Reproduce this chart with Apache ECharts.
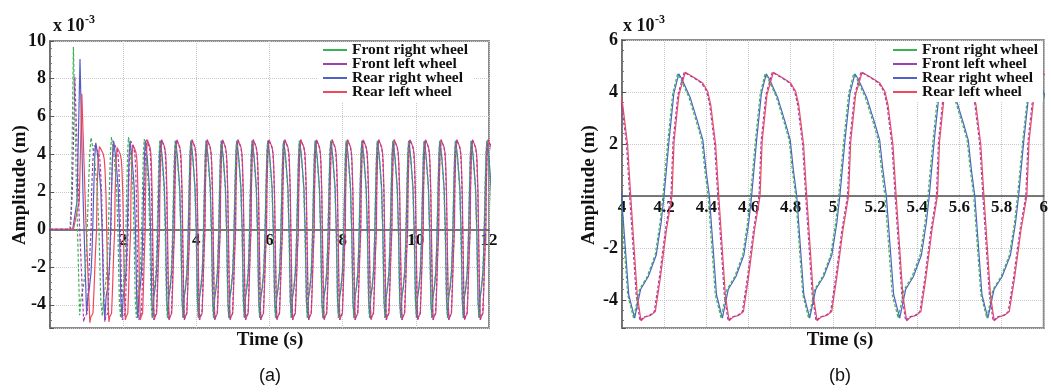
<!DOCTYPE html>
<html>
<head>
<meta charset="utf-8">
<script src="https://cdn.jsdelivr.net/npm/echarts@6/dist/echarts.min.js"></script>
<style>
  html, body { margin: 0; padding: 0; background: #fff; }
  #chart { width: 1051px; height: 392px; }
</style>
</head>
<body>
<div id="chart"></div>
<script>
// wheel amplitude in x 10^-3 m (a) and (b)

var wheelNames = ['Front right wheel', 'Front left wheel', 'Rear right wheel', 'Rear left wheel'];
var wheelColors = ['#3cb054', '#a040b0', '#5060c8', '#f04858'];

// one cycle after each trough: seconds after trough, amplitude
var rightWheelShapeT = [0, 0.028, 0.065, 0.103, 0.126, 0.14, 0.164, 0.187, 0.21, 0.225, 0.264, 0.302, 0.325, 0.34, 0.356, 0.39];
var rightWheelShapeV = [-4.7, -3.6, -3.1, -2.27, -1.04, 0, 2.15, 3.95, 4.7, 4.5, 3.8, 2.8, 2.15, 1.0, 0, -3.8];
var leftWheelShapeT = [0, 0.02, 0.045, 0.068, 0.091, 0.121, 0.147, 0.157, 0.18, 0.21, 0.256, 0.292, 0.316, 0.331, 0.354, 0.369, 0.40];
var leftWheelShapeV = [-4.8, -4.65, -4.6, -4.45, -3.2, -1.3, 0, 2.1, 3.9, 4.76, 4.54, 4.35, 4.03, 3.5, 1.97, 0, -3.8];
var shapeCycle = 0.418;

// the bump as the car starts, before the first trough
var frontRightLead = [[0, 0], [0.545, 0], [0.585, 1.5], [0.64, 9.7], [0.72, 2.5]];
var frontLeftLead = [[0, 0], [0.56, 0], [0.61, 2.0], [0.68, 8.1], [0.80, 0.5]];
var rearRightLead = [[0, 0], [0.62, 0], [0.74, 1.5], [0.82, 9.05], [0.90, 2.0]];
var rearLeftLead = [[0, 0], [0.64, 0], [0.80, 1.5], [0.87, 7.2], [0.98, 0.5]];

// trough times (s)
var frontRightTroughs = [0.81, 1.43, 1.93, 2.36, 2.79, 3.21, 3.635, 4.055, 4.47, 4.885, 5.31, 5.73, 6.165, 6.595, 7.035, 7.455, 7.885, 8.305, 8.735, 9.155, 9.585, 10.015, 10.435, 10.865, 11.295, 11.725, 12.15];
var frontLeftTroughs = [0.92, 1.50, 1.98, 2.43, 2.84, 3.25, 3.67, 4.085, 4.503, 4.92, 5.345, 5.76, 6.20, 6.63, 7.07, 7.49, 7.92, 8.34, 8.77, 9.19, 9.62, 10.05, 10.47, 10.90, 11.33, 11.76, 12.185];
var rearRightTroughs = [1.00, 1.50, 1.97, 2.40, 2.81, 3.22, 3.64, 4.06, 4.476, 4.89, 5.317, 5.735, 6.17, 6.60, 7.04, 7.46, 7.89, 8.31, 8.74, 9.16, 9.59, 10.02, 10.44, 10.87, 11.30, 11.73, 12.155];
var rearLeftTroughs = [1.09, 1.61, 2.06, 2.47, 2.85, 3.26, 3.675, 4.09, 4.508, 4.925, 5.35, 5.765, 6.205, 6.635, 7.075, 7.495, 7.925, 8.345, 8.775, 9.195, 9.625, 10.055, 10.475, 10.905, 11.335, 11.765, 12.19];

// first few trough depths and peak heights (later cycles follow the shape)
var frontRightLows = [-4.55, -4.6];
var frontLeftLows = [-4.9, -4.9];
var rearRightLows = [-4.5, -4.8];
var rearLeftLows = [-4.95, -4.9];
var frontRightPeaks = [4.87, 4.9, 4.9, 4.8];
var frontLeftPeaks = [4.45, 4.6, 4.7];
var rearRightPeaks = [4.6, 4.7];
var rearLeftPeaks = [4.4, 4.35, 4.5];

function buildWheel(lead, troughs, lows, peaks, shapeT, shapeV) {
  var pts = lead.slice();
  var top = Math.max.apply(null, shapeV);
  for (var i = 0; i < troughs.length; i++) {
    var t0 = troughs[i];
    var span = i + 1 < troughs.length ? troughs[i + 1] - t0 : shapeCycle;
    var k = (peaks[i] || top) / top;
    for (var j = 0; j < shapeT.length; j++) {
      var v = shapeV[j];
      if (j === 0 && lows[i] !== undefined) v = lows[i];
      else if (v > 0) v = v * k;
      pts.push([t0 + shapeT[j] / shapeCycle * span, v]);
    }
  }
  return pts;
}

var wheelData = [
  buildWheel(frontRightLead, frontRightTroughs, frontRightLows, frontRightPeaks, rightWheelShapeT, rightWheelShapeV),
  buildWheel(frontLeftLead, frontLeftTroughs, frontLeftLows, frontLeftPeaks, leftWheelShapeT, leftWheelShapeV),
  buildWheel(rearRightLead, rearRightTroughs, rearRightLows, rearRightPeaks, rightWheelShapeT, rightWheelShapeV),
  buildWheel(rearLeftLead, rearLeftTroughs, rearLeftLows, rearLeftPeaks, leftWheelShapeT, leftWheelShapeV)
];

var serif = '"Liberation Serif", "Times New Roman", serif';
var labelStyle = { fontFamily: serif, fontWeight: 'bold', fontSize: 18, color: '#111' };
var gridLine = { show: true, lineStyle: { type: 'dotted', color: '#c8c8c8', width: 1 } };

var grids = [
  { left: 50, top: 41, width: 439, height: 287 },
  { left: 622, top: 40, right: -11, height: 288 }
];
var yRanges = [[-5.23, 10], [-5.08, 6]];

// the time axis sits on the zero line, inside the frame
function xAxisFor(idx, min, max, interval, hideFirst) {
  var yr = yRanges[idx];
  return {
    gridIndex: idx, type: 'value', min: min, max: max, interval: interval,
    position: 'bottom',
    offset: -grids[idx].height * (0 - yr[0]) / (yr[1] - yr[0]),
    axisLine: { onZero: false, lineStyle: { color: '#4d4d4d', width: 1.5 } },
    axisTick: { show: false },
    axisLabel: {
      margin: 3, fontFamily: serif, fontWeight: 'bold', fontSize: 17, color: '#111',
      formatter: function (v) {
        if (hideFirst && v === min) return '';
        return String(Math.round(v * 10) / 10);
      }
    },
    splitLine: gridLine
  };
}

function yAxisFor(idx, hideZero) {
  return {
    gridIndex: idx, type: 'value', min: yRanges[idx][0], max: yRanges[idx][1], minInterval: 2, maxInterval: 2,
    axisLine: { show: true, onZero: false, lineStyle: { color: '#666', width: 1.5 } },
    axisTick: { show: true, inside: true, length: 4, lineStyle: { color: '#555' } },
    minorTick: { show: true, splitNumber: 5, length: 2, lineStyle: { color: '#777' } },
    axisLabel: Object.assign({
      margin: 4, showMinLabel: false,
      formatter: function (v) { return hideZero && v === 0 ? '' : String(v); }
    }, labelStyle),
    splitLine: gridLine
  };
}

function legendFor(left) {
  return {
    left: left, top: 42, orient: 'vertical', itemGap: -2,
    itemWidth: 24, itemHeight: 2, icon: 'rect',
    backgroundColor: '#fff', padding: [0, 5, 2, 5],
    data: wheelNames,
    textStyle: { fontFamily: serif, fontWeight: 'bold', fontSize: 15.5, color: '#111', lineHeight: 13 }
  };
}

// right-wheel lines are drawn blue under green dashes, left-wheel lines red under purple dashes
var drawOrder = [2, 3, 0, 1];
var series = [];
[0, 1].forEach(function (g) {
  drawOrder.forEach(function (i) {
    series.push({
      name: wheelNames[i], type: 'line', xAxisIndex: g, yAxisIndex: g,
      data: wheelData[i], showSymbol: false, symbol: 'none', animation: false,
      itemStyle: { color: wheelColors[i] },
      lineStyle: { color: wheelColors[i], width: 1.2, type: i < 2 ? [3, 2] : 'solid' }
    });
  });
});

function txt(x, y, text, font, extra, align) {
  return Object.assign({
    type: 'text', x: x, y: y, silent: true,
    style: { text: text, font: font, fill: '#111', align: align || 'center', verticalAlign: 'middle',
      textAlign: align || 'center', textVerticalAlign: 'middle' }
  }, extra || {});
}
var nameFont = 'bold 19px ' + serif;
var expFont = 'bold 18px ' + serif;
var supFont = 'bold 12px ' + serif;
var capFont = '18px "Liberation Sans", Arial, sans-serif';

var chart = echarts.init(document.getElementById('chart'));
chart.setOption({
  animation: false,
  backgroundColor: '#fff',
  grid: grids.map(function (g) {
    return Object.assign({ show: true, borderColor: '#8c8c8c', borderWidth: 2 }, g);
  }),
  xAxis: [xAxisFor(0, 0, 12, 2, true), xAxisFor(1, 4, 6, 0.2, false)],
  yAxis: [yAxisFor(0, false), yAxisFor(1, true)],
  legend: [legendFor(318), legendFor(888)],
  graphic: [
    txt(53, 26, 'x 10', expFont, null, 'left'), txt(85, 20, '-3', supFont, null, 'left'),
    txt(623, 26, 'x 10', expFont, null, 'left'), txt(655, 20, '-3', supFont, null, 'left'),
    txt(20, 185, 'Amplitude (m)', nameFont, { rotation: Math.PI / 2 }),
    txt(589, 185, 'Amplitude (m)', nameFont, { rotation: Math.PI / 2 }),
    txt(270, 340, 'Time (s)', nameFont),
    txt(840, 340, 'Time (s)', nameFont),
    txt(270, 376, '(a)', capFont),
    txt(840, 376, '(b)', capFont)
  ],
  series: series
});
</script>
</body>
</html>
